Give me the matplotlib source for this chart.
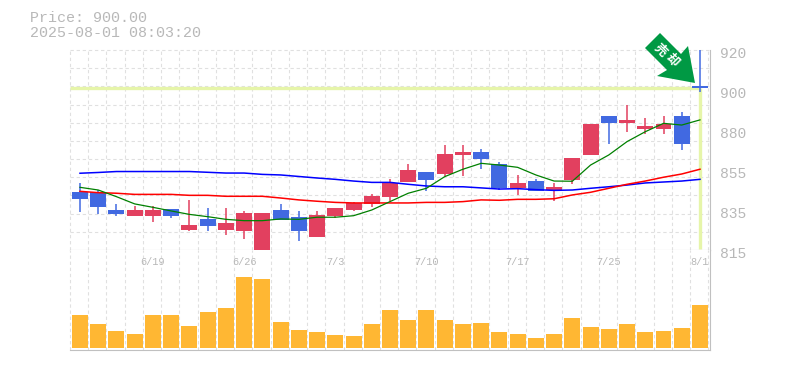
import numpy as np
import matplotlib
matplotlib.use("Agg")
import matplotlib.pyplot as plt
from matplotlib.patches import Polygon

plt.rcParams['font.family'] = ['Liberation Mono', 'Noto Sans CJK JP', 'DejaVu Sans']

# ----- data -----
price_now = 900.00
title_lines = ["Price: 900.00", "2025-08-01 08:03:20"]

opens = [845.5, 845.5, 835.9, 832.9, 832.9, 836.5, 825.5, 831.3, 825.5, 825.0, 814.0, 836.0, 832.3, 821.8, 832.9, 836.0,
         839.2, 842.8, 850.7, 856.0, 854.9, 864.9, 866.5, 860.2, 847.6, 851.2, 846.5, 851.8, 864.9, 885.4, 881.7, 878.5,
         878.5, 885.4, 901.1]
closes = [841.8, 837.6, 833.9, 836.0, 836.0, 832.8, 828.1, 827.6, 829.2, 834.4, 834.4, 830.8, 825.0, 833.4, 837.1, 839.7,
          843.4, 850.2, 857.0, 851.5, 865.4, 866.5, 862.8, 847.6, 850.2, 846.0, 848.1, 863.3, 881.2, 881.7, 883.3, 880.1,
          881.2, 870.7, 900.0]
highs = [850.2, 846.5, 839.2, 838.1, 838.1, 836.5, 841.3, 837.1, 837.1, 835.5, 834.4, 839.2, 835.5, 835.5, 837.1, 840.2,
         844.4, 852.3, 860.2, 856.0, 870.1, 870.1, 868.0, 861.2, 854.4, 852.3, 850.2, 863.3, 881.2, 885.4, 891.1, 884.3,
         885.4, 887.5, 920.0]
lows = [835.0, 833.9, 832.9, 832.9, 829.7, 831.8, 825.0, 825.0, 822.9, 820.8, 814.0, 830.8, 819.7, 821.8, 831.8, 835.5,
        837.6, 840.7, 850.7, 846.0, 853.9, 853.9, 857.5, 846.5, 843.9, 846.0, 840.7, 849.7, 864.9, 870.7, 877.0, 875.9,
        875.9, 867.5, 898.0]

ma_blue = [855.3, 855.7, 856.2, 856.2, 856.2, 856.2, 856.2, 855.8, 855.4, 855.4, 854.7, 854.4, 853.6, 852.8, 852.1, 851.2,
           850.5, 850.5, 849.5, 848.6, 848.2, 848.2, 847.6, 847.0, 847.2, 846.7, 846.3, 846.5, 847.4, 848.2, 849.1, 850.2,
           850.7, 851.2, 852.1]
ma_red = [845.8, 845.1, 844.8, 844.2, 844.2, 844.2, 843.7, 843.7, 843.2, 843.2, 843.2, 842.3, 841.3, 840.6, 840.0, 839.7,
          839.7, 839.7, 839.7, 840.0, 840.0, 840.4, 841.3, 841.1, 841.6, 841.6, 841.9, 843.9, 845.3, 847.4, 849.5, 851.2,
          853.2, 854.9, 857.4]
ma_green = [847.9, 846.5, 843.0, 839.2, 837.4, 835.5, 833.7, 832.5, 831.1, 830.4, 830.4, 831.3, 831.1, 832.2, 832.2, 833.0,
            836.0, 840.4, 844.8, 847.4, 853.5, 857.4, 860.5, 859.6, 858.4, 854.4, 851.2, 851.1, 859.6, 864.9, 871.9, 877.1,
            881.5, 880.6, 883.3]

volumes = [33, 24, 17, 14, 33, 33, 22, 36, 40, 71, 69, 26, 18, 16, 13, 12, 24, 38, 28, 38, 28, 24, 25, 16, 14, 10, 14, 30,
           21, 19, 24, 16, 17, 20, 43]

date_idx = [4, 9, 14, 19, 24, 29, 34]
date_labels = ["6/19", "6/26", "7/3", "7/10", "7/17", "7/25", "8/1"]
y_label_values = [920, 899, 878, 857, 836, 815]
y_labels = ["920", "900", "880", "855", "835", "815"]

# ----- colours -----
c_up = "#e2405f"
c_down = "#4169e1"
c_grid = "#e0e0e0"
c_axis = "#c0c0c0"
c_text = "#b8b8b8"
c_hl = "#e6f5a9"
c_vol = "#ffb733"
c_arrow = "#009944"

W, H = 785, 370
fig = plt.figure(figsize=(W / 100, H / 100), dpi=100, facecolor="white")
ax = fig.add_axes([70 / W, (H - 250) / H, 640 / W, 200 / H])
av = fig.add_axes([70 / W, (H - 350) / H, 640 / W, 100 / H])

n = len(closes)
x = np.arange(n)

for a in (ax, av):
    a.set_xlim(-0.548, n - 0.45)
    a.set_xticks([])
    a.set_yticks([])
    for s in a.spines.values():
        s.set_visible(False)
    a.spines['right'].set_visible(True)
    a.spines['right'].set_color(c_axis)
    a.spines['bottom'].set_visible(True)
    a.spines['bottom'].set_color(c_axis)
    for i in range(n + 1):
        a.axvline(i - 0.548, color=c_grid, lw=0.8, ls=(0, (3, 2.5)), zorder=0, clip_on=False)

ax.set_ylim(815, 920)
av.set_ylim(-2, 98)

for v in np.linspace(815, 920, 12)[1:]:
    ax.axhline(v, color=c_grid, lw=0.8, ls=(0, (3, 2.5)), zorder=0, clip_on=False)

# price marker lines
ax.plot([-0.548, n - 1], [price_now, price_now], color=c_hl, lw=2.4, zorder=1, solid_capstyle='butt')
ax.plot([n - 1, n - 1], [815.5, price_now], color=c_hl, lw=2.4, zorder=1, solid_capstyle='butt')

# candles
for i in range(n):
    col = c_up if closes[i] >= opens[i] else c_down
    ax.plot([i, i], [lows[i], highs[i]], color=col, lw=1.1, zorder=3, solid_capstyle='butt', clip_on=False)
    ax.bar(i, abs(closes[i] - opens[i]), bottom=min(opens[i], closes[i]), width=0.877, color=col, zorder=3, clip_on=False)

ax.plot(x, ma_blue, color="#0000ff", lw=1.1, zorder=4)
ax.plot(x, ma_red, color="#ff0000", lw=1.1, zorder=4)
ax.plot(x, ma_green, color="#008000", lw=0.9, zorder=4)

av.bar(x, volumes, width=0.877, color=c_vol, zorder=2)

# y labels and dates
for v, t in zip(y_label_values, y_labels):
    ax.annotate(t, (1, v), xycoords=('axes fraction', 'data'), xytext=(10, -3.5), textcoords='offset pixels',
                color=c_text, fontsize=10.5, ha='left', va='center', annotation_clip=False)
for i, t in zip(date_idx, date_labels):
    av.annotate(t, (i, 1), xycoords=('data', 'axes fraction'), xytext=(0, -12), textcoords='offset pixels',
                color=c_text, fontsize=7.4, ha='center', va='center', annotation_clip=False)

fig.text(30 / W, 1 - 18 / H, title_lines[0], color=c_text, fontsize=10.8, va='center', ha='left')
fig.text(30 / W, 1 - 33 / H, title_lines[1], color=c_text, fontsize=10.8, va='center', ha='left')

# sell arrow
arrow_pts = [(660, 33), (645, 48), (667, 70), (657, 76), (695, 83), (688, 46), (681, 54)]
fig.add_artist(Polygon([(px / W, 1 - py / H) for px, py in arrow_pts], closed=True, transform=fig.transFigure,
                       facecolor=c_arrow, edgecolor='none', zorder=6))
fig.text(660 / W, 1 - 50 / H, "売", color="white", fontsize=9, fontweight='bold', rotation=-45,
         ha='center', va='center', zorder=7)
fig.text(672 / W, 1 - 61 / H, "却", color="white", fontsize=9, fontweight='bold', rotation=-45,
         ha='center', va='center', zorder=7)

fig.savefig("out.png", dpi=100, facecolor="white")
